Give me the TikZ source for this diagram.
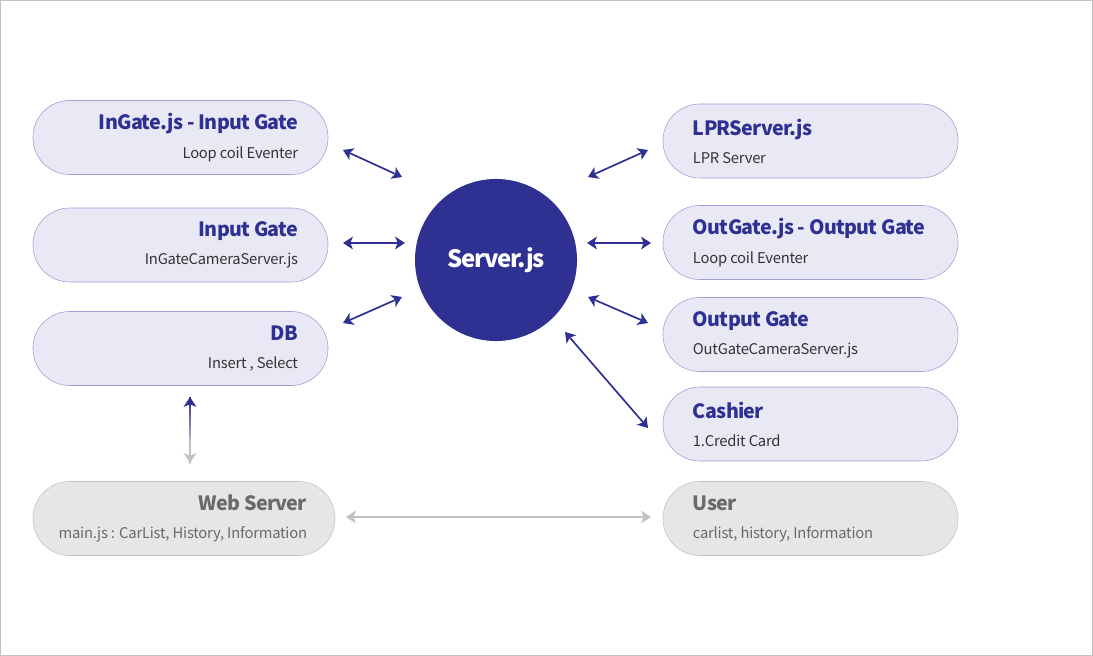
\documentclass[tikz,border=0pt]{standalone}
\usepackage{fontspec}
\setmainfont{Noto Sans CJK KR}[LetterSpace=-1.5]
\usepackage{xcolor}
\usetikzlibrary{arrows.meta,calc}
\definecolor{navy}{HTML}{2E3192}
\definecolor{boxfill}{HTML}{E9E9F5}
\definecolor{boxline}{HTML}{A09DD6}
\definecolor{webfill}{HTML}{E6E6E6}
\definecolor{webline}{HTML}{C2C2C2}
\definecolor{webtext}{HTML}{6A6A6A}
\definecolor{subtext}{HTML}{333333}
\newcommand{\ttl}[2][navy]{{\fontsize{14}{20}\selectfont\bfseries\addfontfeatures{LetterSpace=-3.5}\color{#1}#2}}
\begin{document}
\begin{tikzpicture}[x=0.025cm,y=-0.025cm]
        \tikzset{gatebox/.style={rounded corners=0.92cm,draw=boxline,fill=boxfill,
                minimum width=7.375cm,minimum height=1.85cm},
            webbox/.style={gatebox,draw=webline,fill=webfill},
            gatetext/.style={inner sep=0pt,text=subtext,font=\fontsize{10.5}{20}\selectfont},
            lefttext/.style={gatetext,align=right,anchor=east,xshift=-0.75cm},
            righttext/.style={gatetext,align=left,anchor=west,xshift=0.75cm},
            hd/.tip={Stealth[length=7pt,width=9pt,inset=1.8pt]},
            link/.style={draw=navy,line width=1.2pt,{hd}-{hd}},
            weblink/.style={link,draw=webline}}
        \useasboundingbox (0,0) rectangle (1093,656);
        \draw[webline,line width=0.6pt] (0.5,0.5) rectangle (1092.5,655.5);
        \node[gatebox] (ingate) at (180.5,137.5) {};
        \node[gatebox] (incam) at (180.5,245) {};
        \node[gatebox] (db) at (180.5,348.5) {};
        \node[webbox,minimum width=7.55cm] (web) at (184,518.5) {};
        \node[gatebox] (lpr) at (810.5,141) {};
        \node[gatebox] (outgate) at (810.5,242.5) {};
        \node[gatebox] (outcam) at (810.5,334.5) {};
        \node[gatebox] (cashier) at (810.5,424) {};
        \node[webbox] (user) at (810.5,518.5) {};
        \node[lefttext] (ingate-t) at (ingate.east) {\ttl{InGate.js - Input Gate}\\Loop coil Eventer};
        \node[lefttext] (incam-t) at (incam.east) {\ttl{Input Gate}\\InGateCameraServer.js};
        \node[lefttext] (db-t) at (db.east) {\ttl{DB}\\Insert , Select};
        \node[lefttext,text=webtext,xshift=0.05cm] (web-t) at (web.east) {\ttl[webtext]{Web Server}\\main.js : CarList, History, Information};
        \node[righttext] (lpr-t) at (lpr.west) {\ttl{LPRServer.js}\\LPR Server};
        \node[righttext] (outgate-t) at (outgate.west) {\ttl{OutGate.js - Output Gate}\\Loop coil Eventer};
        \node[righttext] (outcam-t) at (outcam.west) {\ttl{Output Gate}\\OutGateCameraServer.js};
        \node[righttext] (cashier-t) at (cashier.west) {\ttl{Cashier}\\1.Credit Card};
        \node[righttext,text=webtext] (user-t) at (user.west) {\ttl[webtext]{User}\\carlist, history, Information};
        \node[circle,fill=navy,minimum size=4.05cm,text=white,font=\fontsize{17}{20}\selectfont\bfseries\addfontfeatures{LetterSpace=-5}] (srv) at (496,260) {Server.js};
        \coordinate (l1a) at (343,150); \coordinate (l1b) at (402,177);
        \coordinate (l2a) at (343,243); \coordinate (l2b) at (405,243);
        \coordinate (l3a) at (343,323); \coordinate (l3b) at (402,297);
        \coordinate (r1a) at (588,177); \coordinate (r1b) at (648,150);
        \coordinate (r2a) at (587,243); \coordinate (r2b) at (651,243);
        \coordinate (r3a) at (588,297); \coordinate (r3b) at (648,323);
        \coordinate (r4a) at (565,332); \coordinate (r4b) at (648,428);
        \coordinate (dbw) at (190,397); \coordinate (dbb) at (190,463);
        \coordinate (wua) at (346,517); \coordinate (wub) at (651,517);
        \draw[link] (l1a) -- (l1b);
        \draw[link] (l2a) -- (l2b);
        \draw[link] (l3a) -- (l3b);
        \draw[link] (r1a) -- (r1b);
        \draw[link] (r2a) -- (r2b);
        \draw[link] (r3a) -- (r3b);
        \draw[link] (r4a) -- (r4b);
        % fading line from DB down to Web Server
        \foreach \i in {0,...,11} {
            \pgfmathtruncatemacro\pct{max(0,100-\i*100/8)}
            \pgfmathsetmacro\nxt{(\i+1.1)/12}
            \draw[line width=1.2pt,draw=navy!\pct!webline] ($(dbw)!\i/12!(dbb)$) -- ($(dbw)!\nxt!(dbb)$);
        }
        \draw[link,-{hd}] ($(dbw)!0.12!(dbb)$) -- (dbw);
        \draw[weblink,-{hd}] ($(dbw)!0.88!(dbb)$) -- (dbb);
        \draw[weblink] (wua) -- (wub);
    \end{tikzpicture}
\end{document}
